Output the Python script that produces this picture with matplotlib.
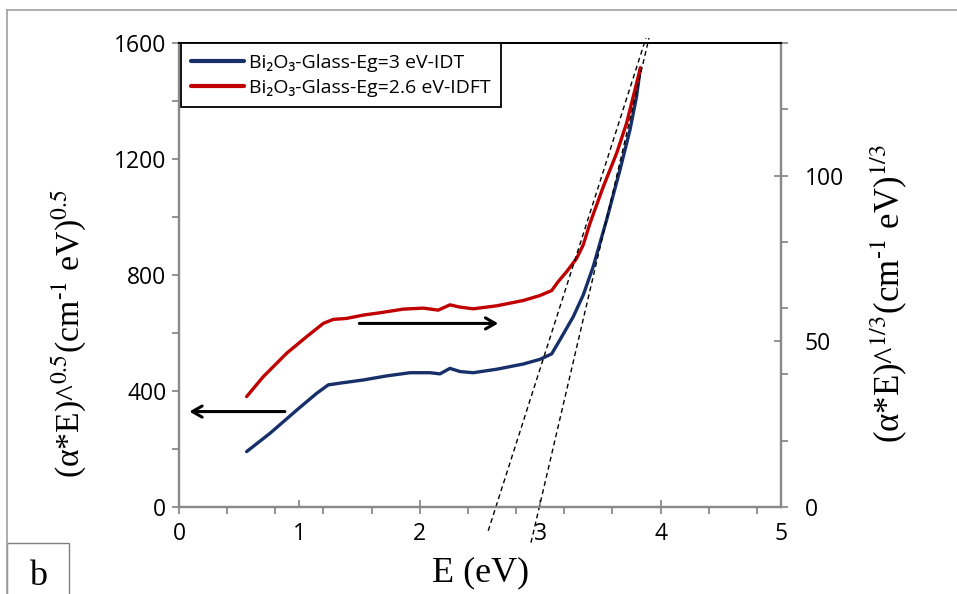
"""
plot.py

Recreates the Tauc-style plot of (alpha*E)^n versus photon energy
for Bi2O3 glass, with two fitted tangent lines (IDT and IDFT).
"""

import numpy as np
import matplotlib.pyplot as plt
from matplotlib.lines import Line2D
from matplotlib.patches import Rectangle

# ---- data ----
# blue curve, left axis: (alpha*E)^0.5
blue_energy = [0.562, 0.756, 0.978, 1.144, 1.240, 1.337, 1.531, 1.725, 1.919,
               2.085, 2.168, 2.251, 2.334, 2.444, 2.639, 2.860, 2.998, 3.096,
               3.164, 3.275, 3.358, 3.441, 3.552, 3.663, 3.746, 3.801, 3.833]
blue_values = [191, 254, 334, 392, 421, 427, 438, 452, 463,
               463, 459, 478, 467, 463, 475, 493, 509, 528,
               576, 656, 731, 829, 990, 1162, 1300, 1415, 1514]

# red curve, right axis: (alpha*E)^(1/3)
red_energy = [0.562, 0.700, 0.895, 1.061, 1.199, 1.282, 1.393, 1.531, 1.669,
              1.863, 2.029, 2.154, 2.251, 2.334, 2.444, 2.639, 2.860, 2.998,
              3.096, 3.150, 3.220, 3.303, 3.358, 3.414, 3.524, 3.635, 3.718,
              3.787, 3.833]
red_values = [33.3, 39.3, 46.4, 51.4, 55.4, 56.6, 56.9, 57.9, 58.6,
              59.7, 60.0, 59.4, 61.0, 60.3, 59.8, 60.7, 62.3, 63.8,
              65.3, 68.0, 71.0, 75.0, 79.1, 85.6, 96.6, 106.7, 115.8,
              125.8, 132.5]

# tangent (fit) lines in left-axis units
fit_idft_x = [2.569, 3.879]
fit_idft_y = [-82, 1617]
fit_idt_x = [2.924, 3.904]
fit_idt_y = [-123, 1617]

blue_label = "Bi\u2082O\u2083-Glass-Eg=3 eV-IDT"
red_label = "Bi\u2082O\u2083-Glass-Eg=2.6 eV-IDFT"

left_ticks = [0, 400, 800, 1200, 1600]
right_ticks = [0, 50, 100]
x_ticks = [0, 1, 2, 3, 4, 5]

BLUE = "#17306a"
RED = "#c00000"
GRAY = "#8a8a8a"

sans = ["Open Sans", "DejaVu Sans"]
plt.rcParams["font.family"] = sans
plt.rcParams["mathtext.fontset"] = "stix"


def plot():
    fig = plt.figure(figsize=(9.57, 5.94), dpi=100)
    ax = fig.add_axes([0.187, 0.1465, 0.629, 0.7811])
    ax2 = ax.twinx()

    # curves
    blue_line, = ax.plot(blue_energy, blue_values, color=BLUE, lw=2.4,
                         solid_capstyle="round")
    red_line, = ax2.plot(red_energy, red_values, color=RED, lw=2.4,
                         solid_capstyle="round")

    # dashed tangent lines, drawn in left-axis units above the curves
    for fx, fy in [(fit_idft_x, fit_idft_y), (fit_idt_x, fit_idt_y)]:
        ax2.plot(fx, fy, color="black", lw=1.0, ls=(0, (3.5, 2.5)),
                 transform=ax.transData, clip_on=False)

    # arrows telling which axis each curve belongs to
    arrow = dict(arrowstyle="->, head_length=0.7, head_width=0.4",
                 color="black", lw=2.2, shrinkA=0, shrinkB=0)
    ax2.annotate("", xy=(2.652, 633), xytext=(1.498, 633),
                 xycoords=ax.transData, textcoords=ax.transData,
                 arrowprops=arrow)
    ax2.annotate("", xy=(0.086, 329), xytext=(0.880, 329),
                 xycoords=ax.transData, textcoords=ax.transData,
                 arrowprops=arrow)

    # axes limits and ticks
    ax.set_xlim(0, 5)
    ax.set_ylim(0, 1600)
    ax2.set_ylim(0, 140)

    ax.set_xticks(x_ticks)
    ax.set_xticks(np.arange(0, 5.01, 0.4), minor=True)
    ax.xaxis.remove_overlapping_locs = False
    ax.tick_params(axis="x", which="major", direction="in", length=5,
                   width=1.3, color=GRAY, pad=11, labelsize=16.5)
    ax.tick_params(axis="x", which="minor", direction="out", length=5,
                   width=1.3, color=GRAY)

    ax.set_yticks(left_ticks)
    ax.set_yticks(np.arange(0, 1601, 200), minor=True)
    ax.tick_params(axis="y", which="both", direction="out", length=5,
                   width=1.3, color=GRAY, pad=4, labelsize=16.5)

    ax2.set_yticks(right_ticks)
    ax2.set_yticks(np.arange(0, 141, 20), minor=True)
    ax2.yaxis.remove_overlapping_locs = False
    ax2.tick_params(axis="y", which="major", direction="in", length=5,
                    width=1.3, color=GRAY, pad=17, labelsize=16.5)
    ax2.tick_params(axis="y", which="minor", direction="out", length=5,
                    width=1.3, color=GRAY)

    for a in (ax, ax2):
        for side in ("left", "bottom", "right"):
            a.spines[side].set_color(GRAY)
            a.spines[side].set_linewidth(1.6)
        a.spines["top"].set_color("black")
        a.spines["top"].set_linewidth(1.4)

    # legend
    leg = ax2.legend([blue_line, red_line], [blue_label, red_label],
                     loc="upper left", bbox_to_anchor=(0.003, 1.0),
                     borderaxespad=0, fancybox=False, framealpha=1,
                     edgecolor="black", handlelength=2.7,
                     handletextpad=0.25, labelspacing=0.35,
                     borderpad=0.55, prop={"family": sans, "size": 14})
    leg.get_frame().set_linewidth(1.3)
    for h in leg.get_lines():
        h.set_linewidth(3.0)

    # axis titles
    serif = "Liberation Serif"
    fig.text(0.502, 0.035, "E (eV)", family=serif, fontsize=26,
             ha="center", va="center")
    fig.text(0.072, 0.438,
             "(\u03b1*E)^$^{0.5}$(cm$^{\\text{-}1}$ eV)$^{0.5}$",
             family=serif, fontsize=24.3, rotation=90,
             ha="center", va="center")
    fig.text(0.928, 0.505,
             "(\u03b1*E)^$^{1/3}$(cm$^{\\text{-}1}$ eV)$^{1/3}$",
             family=serif, fontsize=25, rotation=90,
             ha="center", va="center")

    # outer chart frame and the "b" panel tag
    fig.add_artist(Line2D([0.0073, 0.0073], [0.0, 0.983], color="#a0a0a0",
                          lw=1.2, transform=fig.transFigure))
    fig.add_artist(Line2D([0.0073, 1.0], [0.983, 0.983], color="#a0a0a0",
                          lw=1.2, transform=fig.transFigure))
    fig.add_artist(Rectangle((0.0073, -0.01), 0.0648, 0.096, fill=False,
                             edgecolor="#808080", lw=1.0,
                             transform=fig.transFigure))
    fig.text(0.040, 0.030, "b", family=serif, fontsize=26,
             ha="center", va="center")

    fig.savefig("out.png", dpi=100)


plot()
